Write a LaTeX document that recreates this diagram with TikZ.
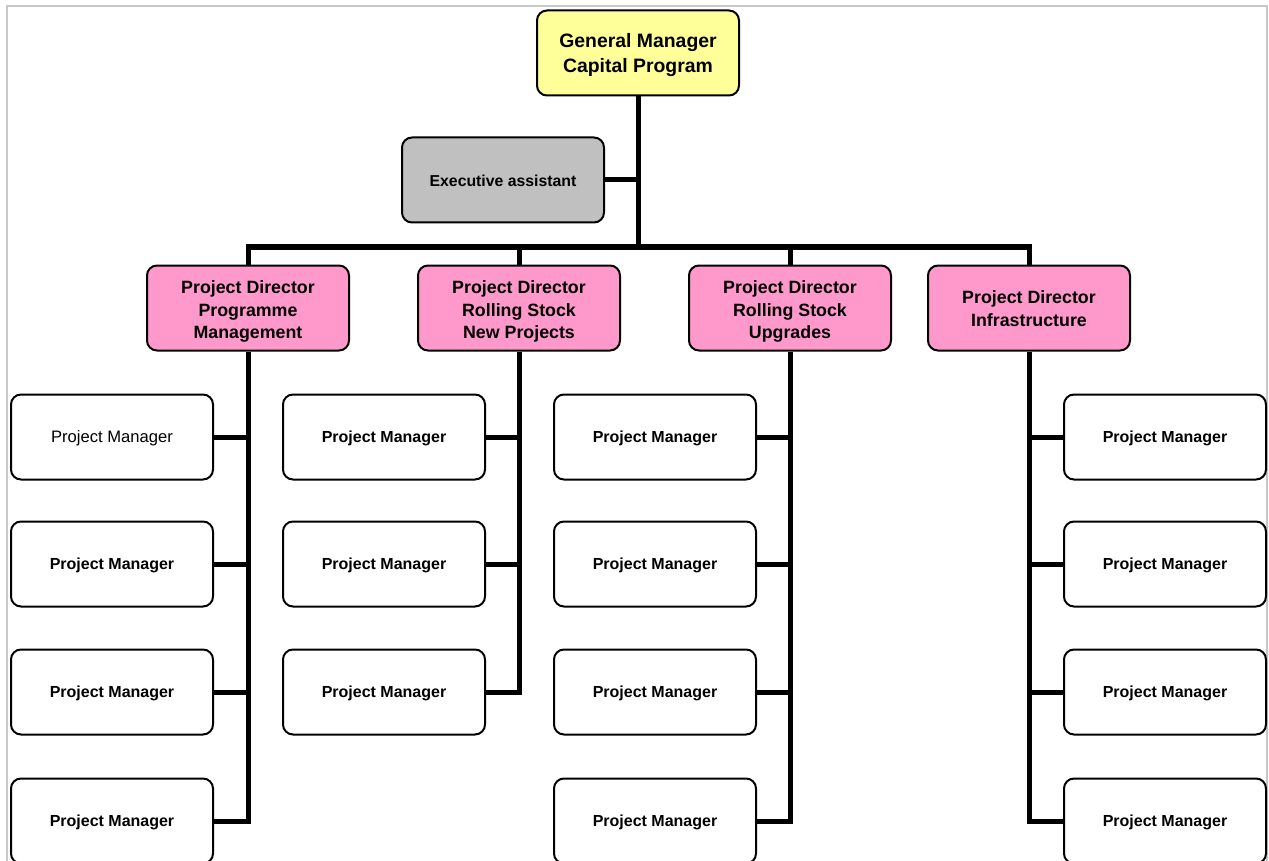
\documentclass[tikz,border=0pt]{standalone}
\usepackage{fontspec}
\setmainfont{Liberation Sans}
\definecolor{gmyellow}{HTML}{FFFF99}
\definecolor{pdpink}{HTML}{FF99CC}
\definecolor{eagrey}{HTML}{C0C0C0}
\definecolor{framegrey}{HTML}{C8C8C8}
% invisible strut that lowers the text block inside a box
\newcommand{\lowerby}[1]{\rule{0pt}{#1}}
\begin{document}
\begin{tikzpicture}[x=1pt,y=-1pt,
  box/.style={draw=black, line width=2pt, rounded corners=10pt, fill=white,
    minimum width=202pt, minimum height=85pt, inner sep=0pt, align=center},
  gmbox/.style={box, fill=gmyellow, font=\fontsize{19.4}{25}\selectfont\bfseries},
  pdbox/.style={box, fill=pdpink, font=\fontsize{17.8}{22.5}\selectfont\bfseries},
  eabox/.style={box, fill=eagrey, font=\fontsize{15.8}{19}\selectfont\bfseries},
  pmbox/.style={box, font=\fontsize{16}{19}\selectfont\bfseries},
  pmplain/.style={box, font=\fontsize{16.6}{19}\selectfont},
  conn/.style={draw=black, line width=5pt}]
\useasboundingbox (0,0) rectangle (1269,861);
\clip (0,0) rectangle (1269,861);
% page frame
\draw[framegrey, line width=2pt] (7,900) -- (7,6) -- (1267,6) -- (1267,900);

\coordinate (bus) at (638,247);

% top level
\node[gmbox] (gm) at (638,53) {\lowerby{18pt}General Manager\\Capital Program};
\node[eabox] (ea) at (503,180) {\lowerby{14pt}Executive assistant};

% directors
\node[pdbox] (d1) at (248,308) {\lowerby{20pt}Project Director\\Programme\\Management};
\node[pdbox] (d2) at (519,308) {\lowerby{20pt}Project Director\\Rolling Stock\\New Projects};
\node[pdbox] (d3) at (790,308) {\lowerby{20pt}Project Director\\Rolling Stock\\Upgrades};
\node[pdbox] (d4) at (1029,308) {\lowerby{14pt}Project Director\\Infrastructure};

% project managers, column 1
\node[pmplain] (p11) at (112,437) {\lowerby{15pt}Project Manager};
\node[pmbox] (p12) at (112,564) {\lowerby{15pt}Project Manager};
\node[pmbox] (p13) at (112,692) {\lowerby{15pt}Project Manager};
\node[pmbox] (p14) at (112,821) {\lowerby{15pt}Project Manager};
% column 2
\node[pmbox] (p21) at (384,437) {\lowerby{15pt}Project Manager};
\node[pmbox] (p22) at (384,564) {\lowerby{15pt}Project Manager};
\node[pmbox] (p23) at (384,692) {\lowerby{15pt}Project Manager};
% column 3
\node[pmbox] (p31) at (655,437) {\lowerby{15pt}Project Manager};
\node[pmbox] (p32) at (655,564) {\lowerby{15pt}Project Manager};
\node[pmbox] (p33) at (655,692) {\lowerby{15pt}Project Manager};
\node[pmbox] (p34) at (655,821) {\lowerby{15pt}Project Manager};
% column 4
\node[pmbox] (p41) at (1165,437) {\lowerby{15pt}Project Manager};
\node[pmbox] (p42) at (1165,564) {\lowerby{15pt}Project Manager};
\node[pmbox] (p43) at (1165,692) {\lowerby{15pt}Project Manager};
\node[pmbox] (p44) at (1165,821) {\lowerby{15pt}Project Manager};

% connectors
\draw[conn] (gm.south) -- (bus);
\draw[conn] (ea.east) -- (ea.east -| gm.south);
\draw[conn] (d1.north) -- (d1.north |- bus) -- (d4.north |- bus) -- (d4.north);
\draw[conn] (d2.north) -- (d2.north |- bus);
\draw[conn] (d3.north) -- (d3.north |- bus);

\draw[conn] (d1.south) |- (p14.east);
\foreach \n in {p11,p12,p13} \draw[conn] (\n.east) -- (\n.east -| d1.south);
\draw[conn] (d2.south) |- (p23.east);
\foreach \n in {p21,p22} \draw[conn] (\n.east) -- (\n.east -| d2.south);
\draw[conn] (d3.south) |- (p34.east);
\foreach \n in {p31,p32,p33} \draw[conn] (\n.east) -- (\n.east -| d3.south);
\draw[conn] (d4.south) |- (p44.west);
\foreach \n in {p41,p42,p43} \draw[conn] (\n.west) -- (\n.west -| d4.south);
\end{tikzpicture}
\end{document}
